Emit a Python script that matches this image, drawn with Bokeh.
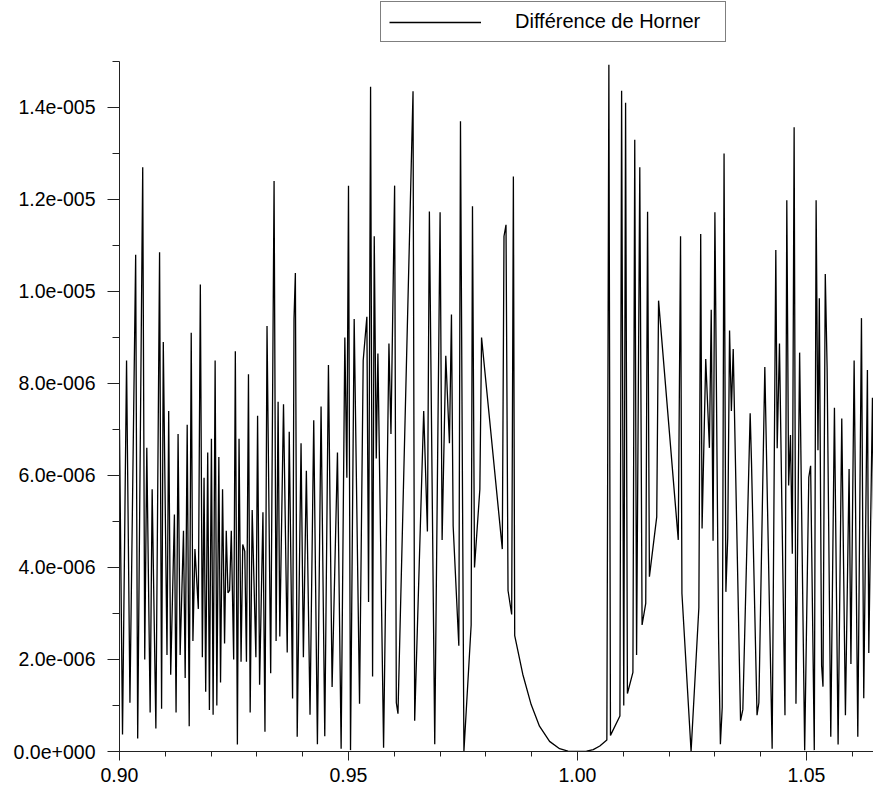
from bokeh.plotting import figure
from bokeh.models import (Legend, LegendItem, FixedTicker, CustomJSTickFormatter,
                          NumeralTickFormatter, Range1d)
from bokeh.embed import file_html
from bokeh.resources import INLINE

x_vals = [
    0.9000, 0.90066, 0.90154, 0.90228, 0.90353, 0.90397, 0.90507, 0.90551, 0.90596, 0.90669,
    0.90713, 0.90794, 0.90875, 0.90919, 0.90956, 0.91037, 0.91074, 0.91118, 0.91199, 0.91235,
    0.91279, 0.91324, 0.91397, 0.91434, 0.91478, 0.91522, 0.91566, 0.91603, 0.91647, 0.91721,
    0.91765, 0.91809, 0.91846, 0.91882, 0.91926, 0.91963, 0.92007, 0.92044, 0.92088, 0.92125,
    0.92169, 0.92206, 0.92250, 0.92294, 0.92331, 0.92368, 0.92404, 0.92441, 0.92493, 0.92529,
    0.92574, 0.92610, 0.92654, 0.92691, 0.92735, 0.92772, 0.92816, 0.92853, 0.92897, 0.92978,
    0.93015, 0.93059, 0.93132, 0.93176, 0.93221, 0.93301, 0.93375, 0.93419, 0.93463, 0.93500,
    0.93581, 0.93662, 0.93706, 0.93779, 0.93810, 0.93840, 0.93880,
    0.93964, 0.94015, 0.94080, 0.94160, 0.94241, 0.94321, 0.94401, 0.94482, 0.94562, 0.94642,
    0.94759, 0.94839, 0.94920, 0.94964, 0.95000, 0.95044, 0.95124, 0.95241, 0.95321, 0.95401,
    0.95438, 0.95482, 0.95526, 0.95562, 0.95606, 0.95642, 0.95766, 0.95883, 0.95927, 0.96007,
    0.96044, 0.96080, 0.96409, 0.96445, 0.96642, 0.96723, 0.96766, 0.96883, 0.97000, 0.97044,
    0.97124, 0.97204, 0.97248, 0.97285, 0.97409, 0.97445, 0.97520,
    0.97678, 0.97707, 0.97751, 0.97868, 0.97905, 0.98358, 0.98395, 0.98439, 0.98483, 0.98563,
    0.98600, 0.98629,
    0.98805, 0.98988, 0.99170, 0.99390, 0.99609, 0.99792, 1.00000, 1.00198, 1.00344, 1.00487,
    1.00641,
    1.00685, 1.00720, 1.00926, 1.00963, 1.01010, 1.01050, 1.01090, 1.01210, 1.01250, 1.01290,
    1.01360, 1.01410, 1.01490, 1.01530, 1.01570, 1.01730, 1.01770,
    1.02200, 1.02250, 1.02280, 1.02480, 1.02650, 1.02690, 1.02720, 1.02800, 1.02880, 1.02920,
    1.02960, 1.03000, 1.03080, 1.03120, 1.03160, 1.03200, 1.03240, 1.03280, 1.03320, 1.03360,
    1.03400, 1.03560, 1.03610, 1.03770, 1.03800, 1.03920, 1.03960, 1.04090, 1.04250, 1.04330,
    1.04360, 1.04410, 1.04530, 1.04570, 1.04610, 1.04650, 1.04690, 1.04730, 1.04770, 1.04850,
    1.04960, 1.05050, 1.05090, 1.05170, 1.05210, 1.05250, 1.05280, 1.05330, 1.05360, 1.05410,
    1.05450, 1.05530, 1.05610, 1.05690, 1.05770, 1.05850, 1.05930, 1.05970, 1.06040, 1.06120,
    1.06200, 1.06250, 1.06330, 1.06360, 1.06440, 1.06490, 1.06530, 1.06560, 1.06610, 1.06680,
]

# values in units of 1e-6
y_micro = [
    7.0, 0.37, 8.5, 1.06, 10.8, 0.28, 12.7, 2.0, 6.6, 0.85,
    5.7, 0.5, 10.85, 0.93, 8.9, 2.1, 7.4, 1.67, 5.15, 0.85,
    6.9, 2.1, 4.8, 1.6, 7.1, 0.55, 9.1, 2.4, 4.4, 3.1,
    10.15, 2.05, 5.95, 1.3, 6.5, 0.9, 6.8, 0.8, 8.5, 1.0,
    6.4, 1.5, 5.7, 2.35, 4.8, 3.45, 3.5, 4.8, 2.0, 8.7,
    0.15, 6.8, 1.95, 4.5, 4.35, 1.95, 8.2, 0.85, 5.25, 2.05,
    7.3, 1.45, 5.2, 0.43, 9.25, 1.7, 12.4, 2.4, 7.6, 2.5,
    7.55, 2.15, 6.95, 1.15, 9.4, 10.4, 0.32,
    6.7, 2.05, 6.1, 0.8, 7.2, 0.16, 7.5, 0.33, 8.4, 1.4,
    6.5, 0.06, 9.0, 5.95, 12.3, 0.03, 9.4, 1.04, 8.5, 9.45,
    3.25, 14.45, 1.63, 11.2, 6.37, 8.65, 0.08, 8.87, 6.9, 12.3,
    1.06, 0.82, 14.35, 0.67, 7.4, 4.78, 11.74, 0.16, 11.72, 4.6,
    8.6, 6.7, 9.5, 4.9, 2.3, 13.7, 0.0,
    2.75, 11.85, 4.0, 5.7, 9.0, 4.4, 11.2, 11.45, 3.5, 2.98,
    12.5, 2.52,
    1.68, 1.02, 0.55, 0.22, 0.06, 0.01, 0.0, 0.01, 0.04, 0.12,
    0.25,
    14.93, 0.35, 0.77, 14.36, 1.0, 14.1, 1.26, 1.72, 13.3, 2.1,
    12.7, 2.75, 3.22, 11.73, 3.8, 5.1, 9.8,
    4.6, 11.2, 3.44, 0.0, 3.13, 11.25, 4.85, 8.53, 6.6, 9.6,
    4.58, 11.72, 2.49, 0.16, 0.96, 13.0, 3.47, 4.65, 9.15, 7.4,
    8.75, 0.67, 0.91, 7.35, 6.25, 0.79, 1.06, 8.36, 0.06, 10.9,
    6.59, 8.87, 0.79, 11.98, 5.78, 6.88, 4.3, 13.57, 1.04, 8.67,
    0.03, 5.96, 6.21, 0.03, 11.98, 6.55, 9.85, 1.87, 1.41, 10.38,
    8.34, 0.32, 7.47, 0.15, 7.24, 0.79, 6.14, 1.9, 8.5, 0.32,
    9.42, 1.16, 8.29, 2.14, 7.69, 2.54, 2.49, 7.6, 2.44, 7.4,
]

y_vals = [v * 1e-6 for v in y_micro]

x_major = [0.90, 0.95, 1.00, 1.05]
x_minor = [0.90, 0.91, 0.92, 0.93, 0.94, 0.95, 0.96, 0.97, 0.98, 0.99, 1.00,
           1.01, 1.02, 1.03, 1.04, 1.05, 1.06]
y_major = [0.0, 2e-6, 4e-6, 6e-6, 8e-6, 1.0e-5, 1.2e-5, 1.4e-5]
y_minor = [i * 1e-6 for i in range(16)]
y_axis_top = 1.5e-5

series_label = "Différence de Horner"

FONT = "Liberation Sans"

# frame: left 119 px, bottom 752 px; 0.01 on x = 45.8 px; 1.5e-5 on y = 691 px
p = figure(width=873, height=784, output_backend="svg", toolbar_location=None,
           x_range=Range1d(0.9, 0.9 + (873 - 119) / 4580.0),
           y_range=Range1d(0.0, 1.5e-5 * 752.0 / 691.0),
           min_border_left=119, min_border_right=0, min_border_top=0,
           min_border_bottom=32)
p.outline_line_color = None
p.grid.visible = False
p.background_fill_color = "white"
p.border_fill_color = "white"

r = p.line(x_vals, y_vals, line_color="black", line_width=1.3)

# axes
xa = p.xaxis[0]
xa.ticker = FixedTicker(ticks=x_major, minor_ticks=x_minor)
xa.formatter = NumeralTickFormatter(format="0.00")
ya = p.yaxis[0]
ya.ticker = FixedTicker(ticks=y_major, minor_ticks=y_minor)
ya.bounds = (0.0, y_axis_top)
ya.formatter = CustomJSTickFormatter(code="""
if (tick == 0) return "0.0e+000";
let e = Math.floor(Math.log10(Math.abs(tick)) + 1e-9);
let m = tick / Math.pow(10, e);
let ms = m.toFixed(1);
if (ms == "10.0") { e += 1; ms = (m / 10).toFixed(1); }
const es = String(Math.abs(e)).padStart(3, "0");
return ms + "e" + (e < 0 ? "-" : "+") + es;
""")

for ax in (xa, ya):
    ax.axis_line_color = "#222222"
    ax.major_tick_line_color = "#222222"
    ax.minor_tick_line_color = "#222222"
    ax.major_tick_in = 0
    ax.minor_tick_in = 0
    ax.major_label_text_font = FONT
    ax.major_label_text_font_size = "19.5px"
    ax.major_label_text_color = "black"

xa.major_tick_out = 9
xa.minor_tick_out = 5
xa.major_label_standoff = 7
ya.major_tick_out = 12
ya.minor_tick_out = 7
ya.major_label_standoff = 12

legend = Legend(items=[LegendItem(label=series_label, renderers=[r])],
                location=(261, 709), orientation="vertical")
legend.border_line_color = "black"
legend.border_line_width = 1
legend.background_fill_color = "white"
legend.background_fill_alpha = 1.0
legend.padding = 8
legend.margin = 0
legend.glyph_width = 92
legend.glyph_height = 16
legend.label_height = 16
legend.label_standoff = 34
legend.label_width = 202
legend.label_text_font = FONT
legend.label_text_font_size = "20px"
legend.label_text_color = "black"
p.add_layout(legend, "center")

open("out.html", "w").write(file_html(p, INLINE))
